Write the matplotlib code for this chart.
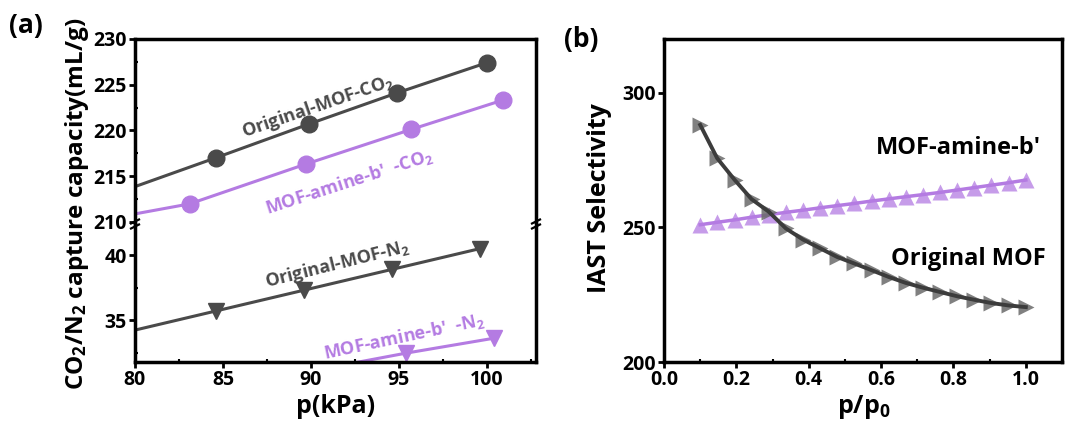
import matplotlib
matplotlib.use('Agg')
import matplotlib.pyplot as plt
from matplotlib.lines import Line2D
from matplotlib.ticker import MultipleLocator, FormatStrFormatter

plt.rcParams['font.family'] = ['Open Sans', 'DejaVu Sans']
plt.rcParams['font.weight'] = 'bold'
plt.rcParams['mathtext.fontset'] = 'custom'
plt.rcParams['mathtext.default'] = 'regular'
plt.rcParams['mathtext.rm'] = 'Open Sans:bold'
plt.rcParams['mathtext.bf'] = 'Open Sans:bold'
plt.rcParams['mathtext.it'] = 'Open Sans:bold'

GRAY = '#4a4a4a'
PURPLE = '#b47be2'

# ---- (a) capture capacity vs pressure ----
p_orig_co2 = [79.5, 84.6, 89.9, 94.9, 100.0]
cap_orig_co2 = [213.5, 217.0, 220.7, 224.1, 227.4]
p_amine_co2 = [78.0, 83.1, 89.7, 95.7, 100.9]
cap_amine_co2 = [210.15, 211.95, 216.3, 220.1, 223.3]
p_orig_n2 = [79.6, 84.6, 89.6, 94.6, 99.6]
cap_orig_n2 = [34.1, 35.7, 37.3, 38.9, 40.5]
p_amine_n2 = [83.1, 89.7, 95.4, 100.4]
cap_amine_n2 = [29.3, 31.0, 32.45, 33.6]

# ---- (b) IAST selectivity vs relative pressure ----
rel_p = [0.100, 0.147, 0.195, 0.242, 0.289, 0.337, 0.384, 0.432, 0.479, 0.526,
         0.574, 0.621, 0.668, 0.716, 0.763, 0.811, 0.858, 0.905, 0.953, 1.000]
sel_orig = [288.1, 275.7, 267.7, 260.5, 255.9, 249.6, 245.5, 242.2, 239.0, 236.6,
            234.1, 231.6, 229.4, 227.6, 226.0, 224.4, 223.1, 221.9, 221.0, 220.4]
sel_amine = [251.0, 251.9, 252.8, 253.8, 254.7, 255.6, 256.4, 257.3, 258.1, 258.9,
             259.8, 260.6, 261.4, 262.2, 263.0, 263.9, 264.8, 265.7, 266.6, 267.6]

W, H = 1065, 432
fig = plt.figure(figsize=(W / 100, H / 100), dpi=100)

SPINE_W = 2.5
TICK_FS = 14


def style_axes(ax):
    for s in ax.spines.values():
        s.set_linewidth(SPINE_W)
    ax.tick_params(which='major', direction='out', length=4, width=2, pad=2,
                   labelsize=TICK_FS, top=False, right=False)
    ax.tick_params(which='minor', direction='in', length=2, width=1.5,
                   top=False, right=False)
    for lab in ax.get_xticklabels() + ax.get_yticklabels():
        lab.set_fontweight('bold')


# left panel: broken y axis made of two stacked axes
left, width = 135 / W, 401 / W
ax_top = fig.add_axes([left, 1 - 224 / H, width, 185 / H])
ax_bot = fig.add_axes([left, 1 - 362 / H, width, 138 / H])

ax_top.plot(p_orig_co2, cap_orig_co2, '-o', color=GRAY, lw=2.2, ms=12)
ax_top.plot(p_amine_co2, cap_amine_co2, '-o', color=PURPLE, lw=2.2, ms=12)
ax_bot.plot(p_orig_n2, cap_orig_n2, '-v', color=GRAY, lw=2.2, ms=12)
ax_bot.plot(p_amine_n2, cap_amine_n2, '-v', color=PURPLE, lw=2.2, ms=12)

for ax in (ax_top, ax_bot):
    ax.set_xlim(80, 102.8)
    style_axes(ax)
    ax.xaxis.set_major_locator(MultipleLocator(5))
    ax.xaxis.set_minor_locator(MultipleLocator(2.5))

ax_top.set_ylim(209.75, 230)
ax_top.yaxis.set_major_locator(MultipleLocator(5))
ax_top.yaxis.set_minor_locator(MultipleLocator(2.5))
ax_top.spines['bottom'].set_visible(False)
ax_top.tick_params(axis='x', which='both', bottom=False, labelbottom=False)

ax_bot.set_ylim(31.77, 42.4)
ax_bot.yaxis.set_major_locator(MultipleLocator(5))
ax_bot.yaxis.set_minor_locator(MultipleLocator(2.5))
ax_bot.spines['top'].set_visible(False)

# break marks on both vertical spines
yb = 1 - 224 / H
for xs in (left, left + width):
    for dy in (-2.5, 2.5):
        fig.add_artist(Line2D([xs - 4 / W, xs + 4 / W],
                              [yb + (dy - 2) / H, yb + (dy + 2) / H],
                              color='black', lw=1.6))

ax_top.text(90.4, 222.6, 'Original-MOF-CO$_2$', color=GRAY, fontsize=13,
            rotation=19, ha='center', va='center', rotation_mode='anchor')
ax_top.text(92.2, 214.4, 'MOF-amine-b\u2032  -CO$_2$', color=PURPLE, fontsize=13,
            rotation=18, ha='center', va='center', rotation_mode='anchor')
ax_bot.text(91.5, 39.3, 'Original-MOF-N$_2$', color=GRAY, fontsize=13,
            rotation=14, ha='center', va='center', rotation_mode='anchor')
ax_bot.text(95.3, 33.75, 'MOF-amine-b\u2032  -N$_2$', color=PURPLE, fontsize=13,
            rotation=12, ha='center', va='center', rotation_mode='anchor')

fig.text(77 / W, 1 - 204 / H, 'CO$_2$/N$_2$ capture capacity(mL/g)', rotation=90,
         ha='center', va='center', fontsize=17.5)
fig.text((135 + 401 / 2) / W, 0.058, 'p(kPa)', ha='center', va='center',
         fontsize=18)
fig.text(26 / W, 1 - 26 / H, '(a)', ha='center', va='center', fontsize=19)

# right panel
ax2 = fig.add_axes([664 / W, 1 - 362 / H, 398 / W, 323 / H])
ax2.plot(rel_p, sel_amine, '-', color=PURPLE, lw=2.5, zorder=2)
ax2.plot(rel_p, sel_amine, '^', color=PURPLE, ms=12, alpha=0.75, mec='none',
         zorder=3)
ax2.plot(rel_p, sel_orig, '>', color='#6a6a6a', ms=12, alpha=0.85, mec='none',
         zorder=4)
ax2.plot(rel_p, sel_orig, '-', color='#3c3c3c', lw=2.8, zorder=5)
ax2.set_xlim(0, 1.1)
ax2.set_ylim(200, 320)
style_axes(ax2)
ax2.xaxis.set_major_locator(MultipleLocator(0.2))
ax2.xaxis.set_minor_locator(MultipleLocator(0.1))
ax2.yaxis.set_major_locator(MultipleLocator(50))
ax2.xaxis.set_major_formatter(FormatStrFormatter('%.1f'))

ax2.text(1.041, 279.6, 'MOF-amine-b\u2032', ha='right', va='center', fontsize=17,
         color='black')
ax2.text(1.055, 238.3, 'Original MOF', ha='right', va='center', fontsize=17,
         color='black')

fig.text(600 / W, 0.5405, 'IAST Selectivity', rotation=90, ha='center',
         va='center', fontsize=18)
fig.text(864 / W, 0.058, 'p/p$_0$', ha='center', va='center', fontsize=18)
fig.text(581 / W, 1 - 39 / H, '(b)', ha='center', va='center', fontsize=19)

fig.savefig('out.png', dpi=100)
